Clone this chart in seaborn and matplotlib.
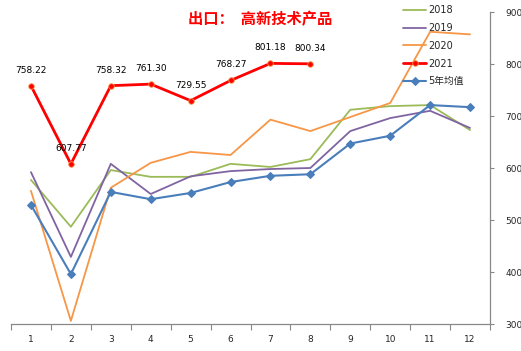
import matplotlib
matplotlib.use("Agg")
import matplotlib.pyplot as plt
import seaborn as sns
import pandas as pd
import numpy as np

months = [1, 2, 3, 4, 5, 6, 7, 8, 9, 10, 11, 12]
v2018 = [577, 487, 596, 583, 583, 608, 602, 617, 712, 719, 721, 673]
v2019 = [592, 429, 608, 550, 584, 594, 598, 600, 671, 696, 710, 677]
v2020 = [556, 306, 562, 610, 631, 625, 693, 671, 698, 725, 862, 857]
v2021 = [758.22, 607.77, 758.32, 761.30, 729.55, 768.27, 801.18, 800.34]
v2021_labels = ["758.22", "607.77", "758.32", "761.30", "729.55", "768.27", "801.18", "800.34"]
vavg = [529, 396, 554, 540, 552, 573, 585, 588, 647, 662, 721, 717]
y_ticks = [300, 400, 500, 600, 700, 800, 900]
title = "出口：高新技术产品"

sns.set_theme(style="white")
plt.rcParams['font.family'] = ['DejaVu Sans', 'Noto Sans CJK SC']

fig = plt.figure(figsize=(5.21, 3.51), dpi=100)
ax = fig.add_axes([11/521, 27/351, 479/521, 312/351])

idx = np.arange(12)
series = [
    ("2018", v2018, "#9BBB59"),
    ("2019", v2019, "#8064A2"),
    ("2020", v2020, "#F79646"),
]
for name, vals, col in series:
    df = pd.DataFrame({"x": idx, "y": vals})
    sns.lineplot(data=df, x="x", y="y", ax=ax, color=col, linewidth=1.3, label=name)

df21 = pd.DataFrame({"x": idx[:len(v2021)], "y": v2021})
sns.lineplot(data=df21, x="x", y="y", ax=ax, color="#FF0000", linewidth=2.0,
             marker="o", markersize=4, markerfacecolor="#FF0000",
             markeredgecolor="#F79646", markeredgewidth=0.6, label="2021")

dfa = pd.DataFrame({"x": idx, "y": vavg})
sns.lineplot(data=dfa, x="x", y="y", ax=ax, color="#4A7EBB", linewidth=1.5,
             marker="D", markersize=4.5, markeredgecolor="#4A7EBB", label="5年均值")

for i, (v, lab) in enumerate(zip(v2021, v2021_labels)):
    ax.annotate(lab, (i, v), xytext=(0, 8), textcoords="offset points",
                ha="center", va="bottom", fontsize=6.5, color="black")

ax.set_xlim(-0.5, 11.5)
ax.set_ylim(300, 900)
ax.set_xlabel("")
ax.set_ylabel("")

ax.yaxis.tick_right()
ax.set_yticks(y_ticks)
ax.set_yticklabels([str(t) for t in y_ticks], fontsize=6.5)
ax.tick_params(axis="y", which="major", right=True, length=3, width=0.8,
               color="#888888", pad=8, direction="out")

ax.set_xticks(idx)
ax.set_xticklabels([str(m) for m in months], fontsize=6.5)
ax.set_xticks(np.arange(-0.5, 12.0, 1.0), minor=True)
ax.tick_params(axis="x", which="major", length=0, pad=8)
ax.tick_params(axis="x", which="minor", bottom=True, length=4, width=0.8,
               color="#888888", direction="out")

for s in ["left", "top"]:
    ax.spines[s].set_visible(False)
for s in ["right", "bottom"]:
    ax.spines[s].set_visible(True)
    ax.spines[s].set_color("#888888")
    ax.spines[s].set_linewidth(0.9)
ax.grid(False)

leg = ax.legend(loc="upper left", bbox_to_anchor=(388/479, 1.034), frameon=False,
                fontsize=7, handlelength=2.4, labelspacing=0.8, handletextpad=0.2,
                borderaxespad=0)

fig.text(260/521, 1 - 19/351, "出口：  高新技术产品", ha="center", va="center", color="#FF0000",
         fontsize=11, fontweight="bold", family=['Noto Sans CJK SC', 'DejaVu Sans'])

fig.savefig("out.png", dpi=100)
